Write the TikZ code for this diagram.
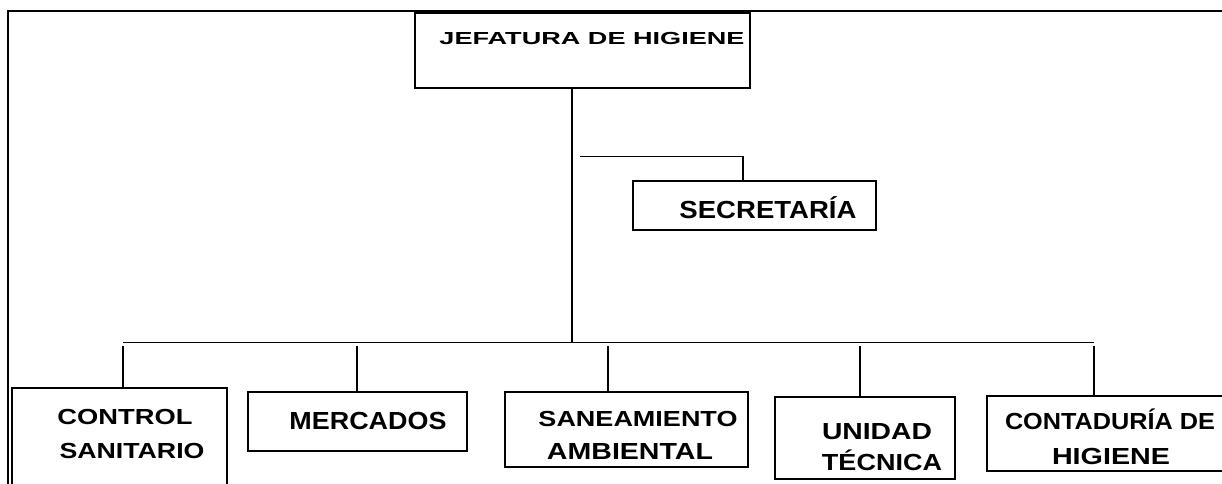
\documentclass[tikz,border=0pt]{standalone}
\usepackage{fontspec}
\setmainfont{Liberation Sans}
\usetikzlibrary{positioning}
\newlength{\pxu}\setlength{\pxu}{0.75pt}
\newcommand{\sqz}[3]{\resizebox{#1\pxu}{#2\pxu}{\bfseries\smash{#3}\vphantom{X}}}
\tikzstyle{unit} = [draw=black, line width=1pt, inner sep=0pt]
\tikzstyle{txt} = [inner sep=0pt]
\tikzstyle{link} = [line width=1pt]
\tikzstyle{bus} = [line width=0.7pt]

\begin{document}
\begin{tikzpicture}[x=0.75pt, y=-0.75pt]
\useasboundingbox (0,0) rectangle (1222,484);
\clip (0,0) rectangle (1222,484);

% Frame
\draw [line width=1.2pt] (8,484) -- (8,11) -- (1222,11);

% Units
\node (jefe) at (582.5,50.5) [unit, minimum width=335\pxu, minimum height=75\pxu] {};
\node (secre) at (754.5,205.5) [unit, minimum width=243\pxu, minimum height=49\pxu] {};
\node (control) at (119.5,446) [unit, minimum width=215\pxu, minimum height=116\pxu] {};
\node (mercados) at (357.5,421.5) [unit, minimum width=219\pxu, minimum height=59\pxu] {};
\node (saneam) at (626.5,429.5) [unit, minimum width=243\pxu, minimum height=75\pxu] {};
\node (unidad) at (865,438) [unit, minimum width=180\pxu, minimum height=82\pxu] {};
\node (contad) at (1113.5,433.5) [unit, minimum width=253\pxu, minimum height=75\pxu] {};

% Labels
\node (jefeTxt) at (592,39) [txt] {\sqz{305}{12}{JEFATURA DE HIGIENE}};
\node (secreTxt) at (768,210) [txt] {\sqz{177}{17}{SECRETARÍA}};
\node (controlTxtA) at (125,417) [txt] {\sqz{135}{15}{CONTROL}};
\node (controlTxtB) at (132,451) [txt] {\sqz{145}{15}{SANITARIO}};
\node (mercadosTxt) at (368,421) [txt] {\sqz{157}{17}{MERCADOS}};
\node (saneamTxtA) at (638,419) [txt] {\sqz{199}{15}{SANEAMIENTO}};
\node (saneamTxtB) at (630,452) [txt] {\sqz{166}{16}{AMBIENTAL}};
\node (unidadTxtA) at (877,432) [txt] {\sqz{110}{16}{UNIDAD}};
\node (unidadTxtB) at (882,463) [txt] {\sqz{120}{16}{TÉCNICA}};
\node (contadTxtA) at (1110,422) [txt] {\sqz{210}{16}{CONTADURÍA DE}};
\node (contadTxtB) at (1111,457) [txt] {\sqz{118}{16}{HIGIENE}};

% Trunk and secretaria branch
\coordinate (trunk) at (572,342);
\draw [link] (jefe.south -| trunk) -- (trunk);
\coordinate (secL) at (580,156);
\coordinate (secR) at (743,156);
\draw [bus] (secL) -- (secR);
\draw [link] (secR) -- (secR |- secre.north);

% Bus and drops
\coordinate (busL) at (123,342);
\coordinate (busR) at (1094,342);
\draw [bus] (busL) -- (busR);
\foreach \n/\x in {control/123, mercados/357, saneam/608, unidad/860, contad/1094} {
  \coordinate (d\n) at (\x,346);
  \draw [link] (d\n) -- (d\n |- \n.north);
}

\end{tikzpicture}
\end{document}
